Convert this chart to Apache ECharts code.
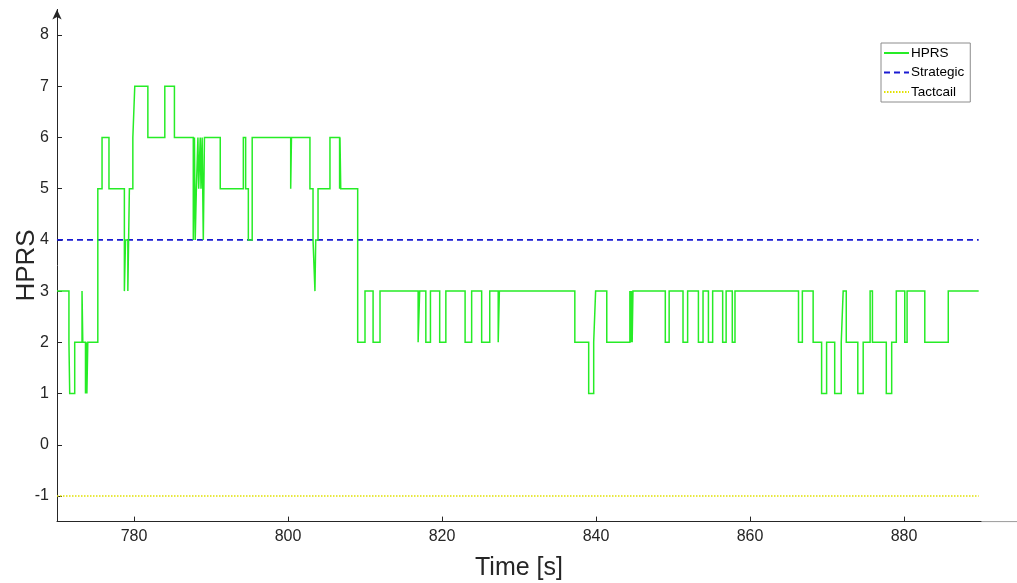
<!DOCTYPE html>
<html>
<head>
<meta charset="utf-8">
<script src="https://cdn.jsdelivr.net/npm/echarts@6/dist/echarts.min.js"></script>
<style>
  html, body { margin: 0; padding: 0; background: #fff; }
  #chart { width: 1017px; height: 583px; }
</style>
</head>
<body>
<div id="chart"></div>
<script>
// HPRS level changes: each level holds from its time until the next change
const hprsTime = [
  770.0, 771.55, 771.65, 772.3, 773.25, 773.35, 773.7, 773.8, 773.88, 774.0,
  775.3, 775.85, 776.75, 778.75, 778.9, 779.2, 779.4, 779.85, 780.1, 781.8,
  784.0, 785.25, 787.7, 787.85, 787.95, 788.1, 788.3, 788.4, 788.6, 788.7,
  788.85, 789.0, 789.15, 791.2, 794.2, 794.5, 794.85, 795.35, 800.35, 800.45,
  802.85, 803.25, 803.5, 803.6, 803.9, 805.45, 806.7, 806.75, 806.85, 809.05,
  810.0, 811.05, 811.95, 816.9, 817.1, 817.9, 818.5, 819.7, 820.5, 823.0,
  823.85, 825.15, 826.2, 827.3, 827.45, 837.25, 839.05, 839.7, 839.95, 841.4,
  844.4, 844.5, 844.6, 844.7, 844.8, 849.0, 849.5, 851.3, 851.9, 853.3,
  853.9, 854.6, 855.15, 856.45, 856.9, 857.7, 858.05, 866.3, 866.8, 868.2,
  869.3, 869.95, 871.0, 871.85, 872.1, 872.5, 874.0, 874.7, 875.6, 875.9,
  877.7, 878.4, 879.0, 880.1, 880.4, 882.7, 885.75, 889.7
];
const hprsLevel = [
  3, 2, 1, 2, 3, 2, 1, 2, 1, 2,
  5, 6, 5, 3, 4, 3, 5, 6, 7, 6,
  7, 6, 4, 6, 4, 5, 6, 5, 6, 5,
  6, 4, 6, 5, 6, 5, 4, 6, 5, 6,
  5, 4, 3, 4, 5, 6, 5, 6, 5, 2,
  3, 2, 3, 2, 3, 2, 3, 2, 3, 2,
  3, 2, 3, 2, 3, 2, 1, 2, 3, 2,
  3, 2, 3, 2, 3, 2, 3, 2, 3, 2,
  3, 2, 3, 2, 3, 2, 3, 2, 3, 2,
  1, 2, 1, 2, 3, 2, 1, 2, 3, 2,
  1, 2, 3, 2, 3, 2, 3, 3
];

// Threshold levels
const strategicLevel = 4;
const tacticalLevel = -1;

// Axis ticks
const xTicks = [780, 800, 820, 840, 860, 880];
const yTicks = [-1, 0, 1, 2, 3, 4, 5, 6, 7, 8];

const tStart = hprsTime[0];
const tEnd = hprsTime[hprsTime.length - 1];

// Staircase path: at each change time, first hold the previous level, then jump
const hprsData = [];
hprsTime.forEach((t, i) => {
  if (i > 0) hprsData.push([t, hprsLevel[i - 1]]);
  hprsData.push([t, hprsLevel[i]]);
});
const strategicData = [[tStart, strategicLevel], [tEnd, strategicLevel]];
const tacticalData = [[tStart, tacticalLevel], [tEnd, tacticalLevel]];

const axisColor = '#262626';
const font = 'Liberation Sans, Arial, sans-serif';

const chart = echarts.init(document.getElementById('chart'), null, { renderer: 'canvas' });
chart.setOption({
  animation: false,
  backgroundColor: '#fff',
  grid: { left: 57, right: 36, top: 9.4, bottom: 61.4, containLabel: false, outerBoundsMode: 'none' },
  legend: {
    orient: 'vertical',
    left: 881,
    top: 43,
    itemWidth: 25,
    itemHeight: 14,
    itemGap: 5.5,
    padding: [3, 6, 3, 2],
    borderColor: '#8c8c8c',
    borderWidth: 1,
    backgroundColor: '#fff',
    itemStyle: { opacity: 0 },
    textStyle: { fontFamily: font, fontSize: 13.5, color: '#000', padding: [0, 0, 0, -3] },
    data: ['HPRS', 'Strategic', 'Tactcail']
  },
  xAxis: {
    type: 'value',
    min: 770,
    max: 890,
    name: 'Time [s]',
    nameLocation: 'middle',
    nameGap: 34,
    nameMoveOverlap: false,
    nameTextStyle: { fontFamily: font, fontSize: 25, color: axisColor },
    axisLine: { onZero: false, lineStyle: { color: axisColor, width: 1 } },
    axisTick: { inside: true, length: 5, customValues: xTicks, lineStyle: { color: axisColor } },
    axisLabel: { customValues: xTicks, margin: 7, fontFamily: font, fontSize: 16, color: axisColor },
    splitLine: { show: false }
  },
  yAxis: {
    type: 'value',
    min: -1.5,
    max: 8.5,
    name: 'HPRS',
    nameLocation: 'middle',
    nameGap: 17,
    nameMoveOverlap: false,
    nameRotate: 90,
    nameTextStyle: { fontFamily: font, fontSize: 26, color: axisColor },
    axisLine: {
      show: true,
      onZero: false,
      symbol: ['none', 'arrow'],
      symbolSize: [7, 10],
      lineStyle: { color: axisColor, width: 1 }
    },
    axisTick: { show: true, inside: true, length: 5, customValues: yTicks, lineStyle: { color: axisColor } },
    axisLabel: { customValues: yTicks, margin: 8, fontFamily: font, fontSize: 16, color: axisColor },
    splitLine: { show: false }
  },
  series: [
    {
      name: 'HPRS',
      type: 'line',
      symbol: 'none',
      data: hprsData,
      lineStyle: { color: '#26ec26', width: 1.5, join: 'miter' },
      itemStyle: { color: '#26ec26' },
      z: 3
    },
    {
      name: 'Strategic',
      type: 'line',
      symbol: 'none',
      data: strategicData,
      lineStyle: { color: '#1a1ad2', width: 1.6, type: [6, 4] },
      itemStyle: { color: '#1a1ad2' },
      z: 2
    },
    {
      name: 'Tactcail',
      type: 'line',
      symbol: 'none',
      data: tacticalData,
      lineStyle: { color: '#e2e200', width: 1.5, type: [1.5, 1.5] },
      itemStyle: { color: '#e2e200' },
      z: 2
    }
  ],
  graphic: [
    {
      type: 'line',
      shape: { x1: 981, y1: 521.6, x2: 1017, y2: 521.6 },
      style: { stroke: '#9a9a9a', lineWidth: 1 },
      silent: true
    }
  ]
});
</script>
</body>
</html>
